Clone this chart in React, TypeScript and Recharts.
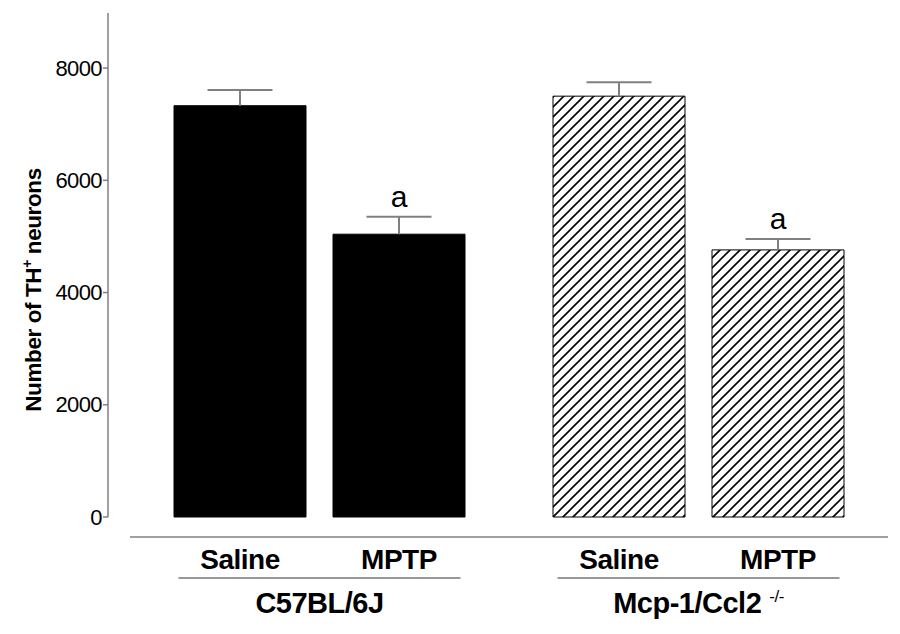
import { BarChart, Bar, XAxis, YAxis, Cell, LabelList } from "recharts";

const groups = ["C57BL/6J", "Mcp-1/Ccl2"];
const groupSup = ["", "-/-"];
const treatments = ["Saline", "MPTP"];
const salineMean = [7330, 7500];
const salineSem = [280, 250];
const mptpMean = [5040, 4760];
const mptpSem = [310, 195];
const mptpMarks = ["a", "a"];
const yTicks = [0, 2000, 4000, 6000, 8000];

const data = groups.map((g, i) => ({
  group: g,
  saline: salineMean[i],
  mptp: mptpMean[i],
}));

const FONT = "'Liberation Sans', Arial, sans-serif";
const AXIS_GRAY = "#808080";

// upward-only SEM whisker + treatment name under the bar + significance mark
function Whisker(props: any, errs: number[], name: string, marks?: string[]) {
  const vb = props.viewBox ?? props;
  const { x, y, width, height } = vb;
  const value = Number(props.value);
  const i = props.index ?? 0;
  if (!value || height == null) return null;
  const cx = x + width / 2;
  const k = height / value;
  const yTop = y - errs[i] * k;
  const base = y + height;
  return (
    <g>
      <line x1={cx} y1={y} x2={cx} y2={yTop} stroke={AXIS_GRAY} strokeWidth={2} />
      <line x1={cx - 32.5} y1={yTop} x2={cx + 32.5} y2={yTop} stroke={AXIS_GRAY} strokeWidth={2} />
      {marks && marks[i] ? (
        <text x={cx} y={yTop - 10} textAnchor="middle" fontFamily={FONT} fontSize={30} fill="#000">
          {marks[i]}
        </text>
      ) : null}
      <text x={cx} y={base + 52} textAnchor="middle" fontFamily={FONT} fontSize={28} fontWeight="bold"
        letterSpacing={-0.5} fill="#000">
        {name}
      </text>
    </g>
  );
}

function YTick({ x, y, payload }: any) {
  return (
    <g>
      <line x1={x - 27} x2={x - 22} y1={y} y2={y} stroke={AXIS_GRAY} strokeWidth={1.5} />
      <text x={x - 28} y={y} dy={7.5} textAnchor="end" fontFamily={FONT} fontSize={22} letterSpacing={-0.6} fill="#000">
        {payload.value}
      </text>
    </g>
  );
}

function GroupTick({ x, y, payload, index }: any) {
  const sup = groupSup[index];
  return (
    <g>
      <line x1={x - 141} x2={x + 141} y1={y + 61} y2={y + 61} stroke="#333" strokeWidth={1.2} />
      <text x={x} y={y + 96} textAnchor="middle" fontFamily={FONT} fontSize={29} fontWeight="bold"
        letterSpacing={-0.5} fill="#000">
        {payload.value}
        {sup ? (
          <tspan dx={8} dy={-11} fontSize={17} fontWeight="normal">{sup}</tspan>
        ) : null}
      </text>
    </g>
  );
}

export default function App() {
  return (
    <div style={{ position: "absolute", left: 0, top: 0, background: "#fff" }}>
      <BarChart width={900} height={634} data={data} barSize={132} barGap={27}
        margin={{ top: 12, right: 12, left: 0, bottom: 0 }}>
        <defs>
          <pattern id="hatch" patternUnits="userSpaceOnUse" width={10} height={10}>
            <rect width={10} height={10} fill="#fff" />
            <path d="M-1,1 l2,-2 M0,10 l10,-10 M9,11 l2,-2" stroke="#000" strokeWidth={1.6} />
          </pattern>
        </defs>
        <XAxis dataKey="group" interval={0} axisLine={false} tickLine={false} tickSize={0} tickMargin={0}
          height={117} tick={<GroupTick />} />
        <YAxis domain={[0, 9000]} ticks={yTicks} width={130} axisLine={false} tickLine={false}
          tickSize={0} tickMargin={0} tick={<YTick />} />
        <Bar dataKey="saline" isAnimationActive={false} stroke="#000" strokeWidth={1}>
          {data.map((d, i) => (
            <Cell key={d.group} fill={i === 0 ? "#000" : "url(#hatch)"} />
          ))}
          <LabelList dataKey="saline" content={(p: any) => Whisker(p, salineSem, treatments[0])} />
        </Bar>
        <Bar dataKey="mptp" isAnimationActive={false} stroke="#000" strokeWidth={1}>
          {data.map((d, i) => (
            <Cell key={d.group} fill={i === 0 ? "#000" : "url(#hatch)"} />
          ))}
          <LabelList dataKey="mptp" content={(p: any) => Whisker(p, mptpSem, treatments[1], mptpMarks)} />
        </Bar>
        {/* offset axis lines, Prism style */}
        <line x1={108} y1={13} x2={108} y2={517} stroke={AXIS_GRAY} strokeWidth={1.5} />
        <line x1={130} y1={537} x2={888} y2={537} stroke={AXIS_GRAY} strokeWidth={1.5} />
        <text transform="translate(41,290) rotate(-90)" textAnchor="middle" fontFamily={FONT}
          fontSize={22.5} fontWeight="bold" letterSpacing={-0.4} fill="#000">
          Number of TH
          <tspan dy={-9} fontSize={14}>+</tspan>
          <tspan dy={9}> neurons</tspan>
        </text>
      </BarChart>
    </div>
  );
}
